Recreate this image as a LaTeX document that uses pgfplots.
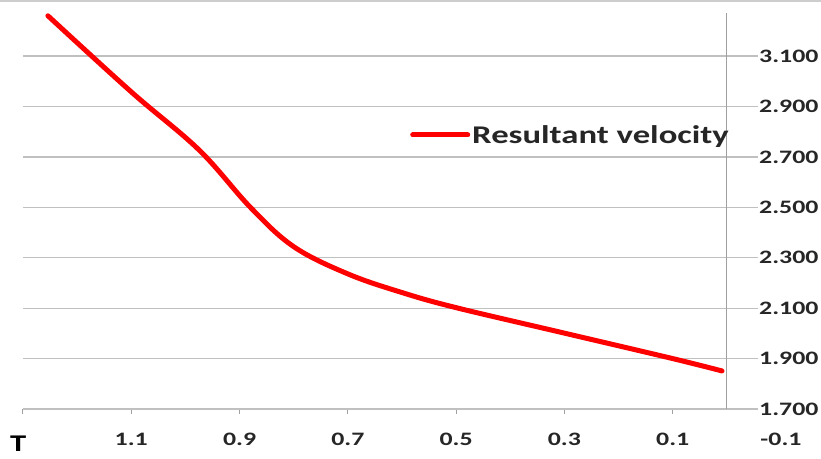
\documentclass[border=0pt]{standalone}
\usepackage{fontspec}
\setmainfont{Carlito}[FakeStretch=1.36]
\usepackage{pgfplots}
\pgfplotsset{compat=1.18}
\definecolor{gridgray}{RGB}{192,192,192}
\definecolor{axgray}{RGB}{160,160,160}
\begin{document}
\begin{tikzpicture}
\useasboundingbox (0,0) rectangle (821pt,458pt);
\fill[white] (0,0) rectangle (821pt,458pt);
\draw[gridgray!80, line width=2pt] (0,457pt) -- (821pt,457pt);
\begin{axis}[
  at={(23pt,49pt)}, anchor=south west,
  scale only axis, width=758pt, height=396pt,
  x dir=reverse,
  xmin=-0.1, xmax=1.3, ymin=1.7, ymax=3.271,
  axis x line*=bottom, axis y line*=right,
  y axis line style={draw=none},
  x axis line style={draw=gridgray, line width=1.2pt},
  xtick={1.3,1.1,0.9,0.7,0.5,0.3,0.1,-0.1},
  xticklabels={,1.1,0.9,0.7,0.5,0.3,0.1,-0.1},
  ytick={1.7,1.9,2.1,2.3,2.5,2.7,2.9,3.1},
  yticklabels={1.700,1.900,2.100,2.300,2.500,2.700,2.900,3.100},
  tick align=outside, major tick length=5pt,
  xtick style={draw=axgray, line width=1pt},
  ytick style={draw=none},
  ymajorgrids, grid style={gridgray, line width=1.3pt},
  ticklabel style={font=\fontsize{19}{23}\selectfont\bfseries, text=black!85},
  xticklabel style={anchor=center, yshift=-25pt, inner sep=1pt},
  yticklabel style={anchor=west, xshift=-28pt, inner sep=1pt, fill=white},
  legend style={at={(0.5106,0.692)}, anchor=west, draw=none, fill=none,
    inner sep=0pt, font=\fontsize{25.5}{29}\selectfont\bfseries,
    nodes={inner sep=2pt, text=black!85}},
  legend cell align=left,
  legend image code/.code={\draw[#1] (0pt,0pt) -- (55pt,0pt);},
  clip=false,
]
\addplot[red, line width=5pt, line cap=round, smooth, tension=0.6] coordinates {
(1.254,3.260) (1.100,2.958) (0.975,2.728)
(0.880,2.500) (0.800,2.344) (0.700,2.236)
(0.600,2.162) (0.500,2.102) (0.300,2.001)
(0.100,1.900) (0.009,1.851)
};
\addlegendentry{Resultant velocity}
\draw[axgray, line width=1.2pt] (axis cs:0,1.7) -- (axis cs:0,3.271);
\end{axis}
\node[anchor=north west, inner sep=0pt, font=\fontsize{24}{26}\selectfont\bfseries] at (10pt,22pt) {T};
\end{tikzpicture}
\end{document}
